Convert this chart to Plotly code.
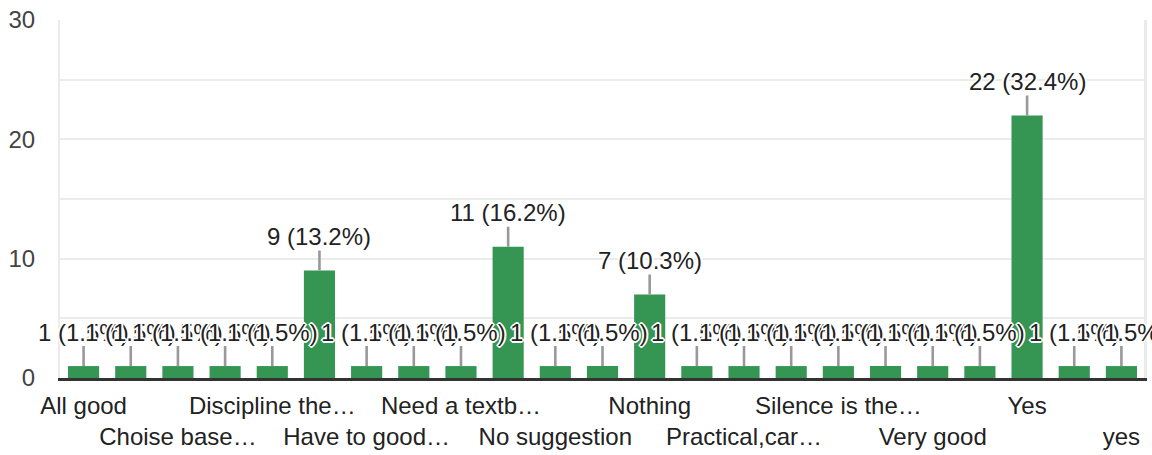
import plotly.graph_objects as go

# survey answers (every other category name is hidden on the axis)
categories = [
    "All good", "Best", "Choise base…", "Discipline", "Discipline the…",
    "Good", "Have to good…", "Interesting", "Need a textb…", "No",
    "No suggestion", "No suggestions", "Nothing", "Ok", "Practical,car…",
    "Satisfied", "Silence is the…", "Teaching is good", "Very good",
    "Very nice", "Yes", "no", "yes",
]
counts = [1, 1, 1, 1, 1, 9, 1, 1, 1, 11, 1, 1, 7, 1, 1, 1, 1, 1, 1, 1, 22, 1, 1]
y_ticks = [0, 10, 20, 30]

total = sum(counts)
FONT = "Liberation Sans, Arial"
GREEN = "#359553"

fig = go.Figure(go.Bar(x=categories, y=counts, marker_color=GREEN,
                       marker_line_width=0, hoverinfo="skip"))

# labels with gray leader lines and a white halo
halo = "2px 0 0 white, -2px 0 0 white, 0 2px 0 white, 0 -2px 0 white, " \
       "1px 1px 0 white, -1px -1px 0 white, 1px -1px 0 white, -1px 1px 0 white"
for cat, v in zip(categories, counts):
    fig.add_annotation(
        x=cat, y=v, text=f"{v} ({v / total * 100:.1f}%)",
        showarrow=True, arrowhead=0, arrowwidth=2.6, arrowcolor="#999999",
        ax=0, ay=-34, standoff=0, borderpad=0,
        font=dict(family=FONT, size=24, color="#222222", shadow=halo),
    )

# right border of the chart area
fig.add_shape(type="line", xref="paper", yref="paper", x0=1, x1=1, y0=0, y1=1,
              line=dict(color="#ebebeb", width=2), layer="below")

# staggered tick labels: every second category, alternating rows
tick_vals = categories[::2]
tick_text = [t if i % 2 == 0 else "<br>" + t for i, t in enumerate(tick_vals)]

fig.update_layout(
    width=1152, height=455,
    margin=dict(l=60, r=7, t=20, b=77),
    paper_bgcolor="white", plot_bgcolor="white",
    bargap=0.34, showlegend=False,
    font=dict(family=FONT, size=24, color="#222222"),
    xaxis=dict(
        range=[-0.5, len(categories) - 0.5],
        tickmode="array", tickvals=tick_vals, ticktext=tick_text,
        tickangle=0, automargin=False,
        showline=True, linecolor="#333333", linewidth=3,
        showgrid=False, ticks="", ticklabelstandoff=4,
        tickfont=dict(family=FONT, size=24, color="#222222"),
    ),
    yaxis=dict(
        range=[0, 30], tickvals=y_ticks, automargin=False,
        showgrid=True, gridcolor="#ebebeb", gridwidth=2,
        minor=dict(dtick=5, showgrid=True, gridcolor="#ebebeb", gridwidth=2),
        zeroline=False, showline=True, linecolor="#ebebeb", linewidth=2,
        mirror=True, ticks="", ticklabelstandoff=18,
        tickfont=dict(family=FONT, size=24, color="#444444"),
    ),
)

fig.write_html("out.html", config={"displayModeBar": False},
               post_script="document.body.style.margin = '0';")
